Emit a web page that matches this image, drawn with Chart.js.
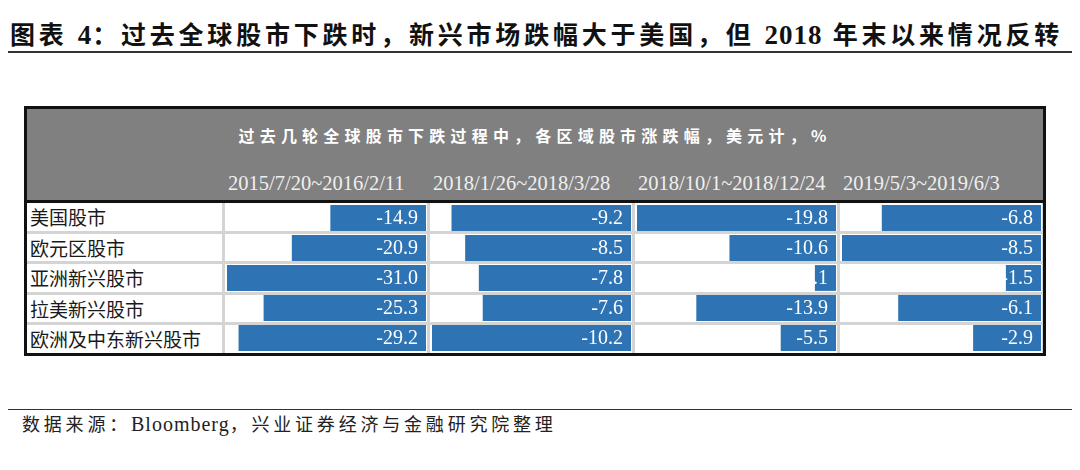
<!DOCTYPE html>
<html>
<head>
<meta charset="utf-8">
<script src="https://cdn.jsdelivr.net/npm/chart.js@4.4.0/dist/chart.umd.min.js"></script>
<style>
  html, body { margin:0; padding:0; background:#fff; }
  body { width:1080px; height:470px; position:relative; overflow:hidden; }
  #title { position:absolute; left:10px; top:15px; white-space:nowrap;
    font-family:"Liberation Serif","Noto Sans CJK SC",serif; font-weight:700; font-size:25px; color:#111; letter-spacing:3.8px; }
  #title .lat { letter-spacing:1px; font-size:27px; }
  #titleLine { position:absolute; left:8px; top:51px; width:1064px; height:2px; background:#333; }
  #table { position:absolute; left:24px; top:106px; width:1022px; height:250px; border:3px solid #111; box-sizing:border-box; }
  #header { position:absolute; left:0; top:0; right:0; height:91px; background:#808080; border-bottom:3px solid #111; }
  #hdrTitle { position:absolute; left:0; right:0; top:14px; text-align:center; color:#fff;
    font-family:"Noto Sans CJK SC",sans-serif; font-weight:700; font-size:16px; letter-spacing:5.2px; }
  .period { position:absolute; top:63px; color:#efefef; font-family:"Liberation Serif",serif; font-size:20.5px; white-space:nowrap; }
  #body { position:absolute; left:0; top:94px; width:1016px; height:150px; background:#d4d4d4;
    display:grid; grid-template-columns:195px 202px 202px 202px 202px; grid-template-rows:repeat(5,1fr); gap:3px; }
  .cell { background:#fff; }
  .lab { font-family:"Noto Sans CJK SC",sans-serif; font-size:19px; color:#1a1a1a; padding-left:3px; line-height:27px; white-space:nowrap; }
  .chartBox { position:absolute; top:94px; height:150px; width:202px; }
  #footLine { position:absolute; left:8px; top:409px; width:1064px; height:1px; background:#333; }
  #foot { position:absolute; left:22px; top:410px; font-family:"Liberation Serif","Noto Sans CJK SC",serif; font-size:18px; color:#222; letter-spacing:3.8px; white-space:nowrap; }
  #foot .lat { font-size:20px; letter-spacing:1px; }
</style>
</head>
<body>
<div id="title">图表 <span class="lat">4</span>：过去全球股市下跌时，新兴市场跌幅大于美国，但 <span class="lat">2018</span> 年末以来情况反转</div>
<div id="titleLine"></div>
<div id="table">
  <div id="header"><div id="hdrTitle">过去几轮全球股市下跌过程中，各区域股市涨跌幅，美元计，%</div></div>
  <div id="body"></div>
</div>
<div id="footLine"></div>
<div id="foot">数据来源：<span class="lat">Bloomberg</span>，兴业证券经济与金融研究院整理</div>
<script>
const categories = ["美国股市", "欧元区股市", "亚洲新兴股市", "拉美新兴股市", "欧洲及中东新兴股市"];
const periods = ["2015/7/20~2016/2/11", "2018/1/26~2018/3/28", "2018/10/1~2018/12/24", "2019/5/3~2019/6/3"];
const period1 = [-14.9, -20.9, -31.0, -25.3, -29.2];
const period2 = [-9.2, -8.5, -7.8, -7.6, -10.2];
const period3 = [-19.8, -10.6, -2.1, -13.9, -5.5];
const period4 = [-6.8, -8.5, -1.5, -6.1, -2.9];
const seriesList = [period1, period2, period3, period4];

const table = document.getElementById('table');
const header = document.getElementById('header');
const bodyGrid = document.getElementById('body');
const colLeft = [198, 403, 608, 813];

periods.forEach((p, j) => {
  const d = document.createElement('div');
  d.className = 'period';
  d.style.left = (colLeft[j] + 3) + 'px';
  d.textContent = p;
  header.appendChild(d);
});

categories.forEach((c) => {
  const l = document.createElement('div');
  l.className = 'cell lab';
  l.textContent = c;
  bodyGrid.appendChild(l);
  for (let j = 0; j < 4; j++) {
    const e = document.createElement('div');
    e.className = 'cell';
    bodyGrid.appendChild(e);
  }
});

const valueLabels = {
  id: 'valueLabels',
  afterDatasetsDraw(chart) {
    const ctx = chart.ctx;
    const meta = chart.getDatasetMeta(0);
    const data = chart.data.datasets[0].data;
    ctx.save();
    ctx.fillStyle = '#ffffff';
    ctx.font = '20px "Liberation Serif", serif';
    ctx.textAlign = 'right';
    ctx.textBaseline = 'middle';
    meta.data.forEach((el, i) => {
      ctx.fillText(data[i].toFixed(1), el.base - 8, el.y + 1);
    });
    ctx.restore();
  }
};

seriesList.forEach((vals, j) => {
  const box = document.createElement('div');
  box.className = 'chartBox';
  box.style.left = colLeft[j] + 'px';
  const cv = document.createElement('canvas');
  box.appendChild(cv);
  table.appendChild(box);
  const colMax = Math.max(...vals.map(Math.abs));
  new Chart(cv, {
    type: 'bar',
    data: { labels: categories, datasets: [{ data: vals, backgroundColor: '#2e74b5', categoryPercentage: 0.86, barPercentage: 1 }] },
    options: {
      indexAxis: 'y', responsive: true, maintainAspectRatio: false, animation: false,
      layout: { padding: { left: 2, right: 1, top: 0, bottom: 0 } },
      scales: { x: { min: -colMax, max: 0, display: false }, y: { display: false } },
      plugins: { legend: { display: false }, tooltip: { enabled: false } }
    },
    plugins: [valueLabels]
  });
});
</script>
</body>
</html>
